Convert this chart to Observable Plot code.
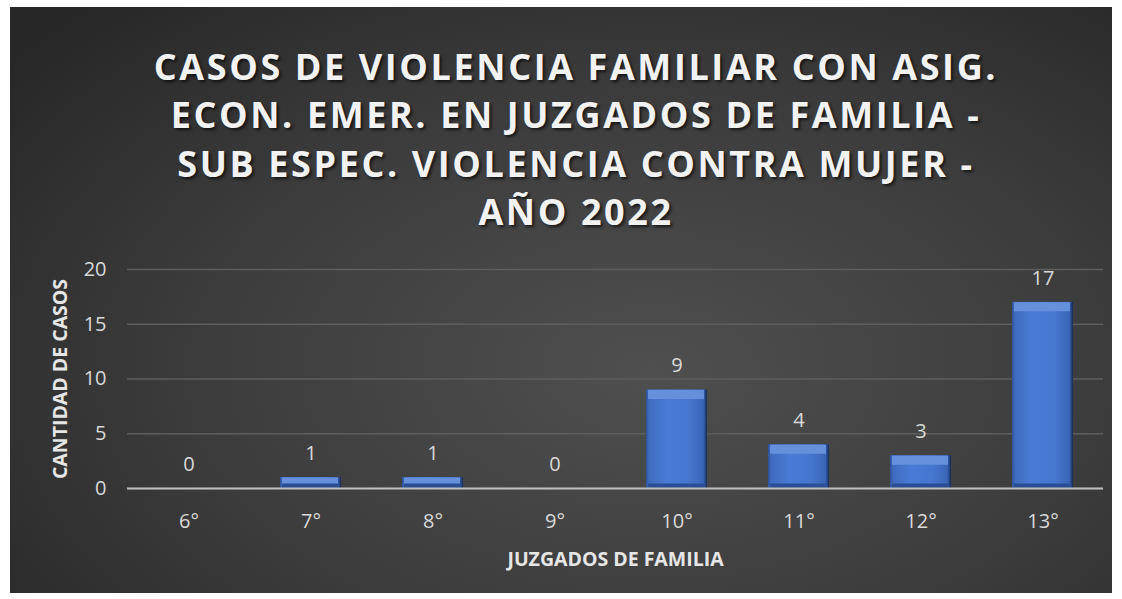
<!DOCTYPE html>
<html><head><meta charset="utf-8">
<script src="https://cdn.jsdelivr.net/npm/d3@7"></script>
<script src="https://cdn.jsdelivr.net/npm/@observablehq/plot@0.6"></script>
<style>
html,body{margin:0;padding:0;background:#fff;}
#panel{position:absolute;left:10px;top:7px;width:1102px;height:586px;overflow:hidden;
 background:radial-gradient(ellipse 75% 85% at 58% 62%, #4f4f4f 0%, #3c3c3c 55%, #272727 100%);}
#title{position:absolute;left:0;top:36px;width:1132px;text-align:center;font-family:"Open Sans",sans-serif;
 font-weight:700;font-size:36px;line-height:48.3px;letter-spacing:2.6px;color:#f2f2f2;
 text-shadow:2px 2px 3px rgba(0,0,0,0.65);}
#chart{position:absolute;left:0;top:236px;width:1102px;}
</style></head>
<body>
<div id="panel">
<div id="title">CASOS DE VIOLENCIA FAMILIAR CON ASIG.<br>ECON. EMER. EN JUZGADOS DE FAMILIA -<br>SUB ESPEC. VIOLENCIA CONTRA MUJER -<br>AÑO 2022</div>
<div id="chart"></div>
</div>
<script>
const categories = ["6°","7°","8°","9°","10°","11°","12°","13°"];
const values = [0,1,1,0,9,4,3,17];
const yTicks = [0,5,10,15,20];
const xLabel = "JUZGADOS DE FAMILIA";
const yLabel = "CANTIDAD DE CASOS";

const data = categories.map((c,i)=>({cat:c, value:values[i]}));
const nonZero = d => d.value > 0;

const chart = Plot.plot({
  width: 1102, height: 345,
  marginLeft: 117, marginRight: 9, marginTop: 26, marginBottom: 100,
  style: {background: "transparent", color: "#d9d9d9", fontFamily: "'Open Sans', sans-serif", fontSize: "20px", overflow: "visible"},
  x: {domain: categories, paddingInner: 0.5, paddingOuter: 0.25, label: null},
  y: {domain: [0,20], label: null},
  marks: [
    Plot.gridY(yTicks, {stroke: "#5e5e5e", strokeOpacity: 1, strokeWidth: 1.3}),
    Plot.barY(data, {x: "cat", y: "value", fill: "url(#barGrad)", filter: nonZero}),
    Plot.tickY(data, {x: "cat", y: "value", filter: nonZero, stroke: "#6590dc", strokeWidth: 9, dy: 4.5, insetLeft: 2, insetRight: 3}),
    Plot.tickY(data, {x: "cat", y: 0, filter: nonZero, stroke: "#2a4e93", strokeWidth: 5, dy: -2.5, insetLeft: 2, insetRight: 3}),
    Plot.ruleY([0], {stroke: "#bfbfbf", strokeWidth: 2}),
    Plot.axisY(yTicks, {tickSize: 0, tickPadding: 21, fontSize: 20, fill: "#d9d9d9", label: null}),
    Plot.axisX({tickSize: 0, tickPadding: 25, fontSize: 20, fill: "#d9d9d9", label: null}),
    Plot.text(data, {x: "cat", y: "value", text: d => String(d.value), dy: -24, fill: "#d9d9d9", fontSize: 20}),
    Plot.text([yLabel], {frameAnchor: "left", textAnchor: "middle", rotate: -90, dx: -67, fill: "#e6e6e6", fontSize: 19.5, fontWeight: "bold"}),
    Plot.text([xLabel], {frameAnchor: "bottom", textAnchor: "middle", dy: 77, fill: "#e6e6e6", fontSize: 19.5, fontWeight: "bold"})
  ]
});

const svg = d3.select(chart.tagName.toLowerCase()==="svg" ? chart : chart.querySelector("svg"));
const defs = svg.insert("defs", ":first-child");
const g = defs.append("linearGradient").attr("id","barGrad").attr("x1",0).attr("x2",1).attr("y1",0).attr("y2",0);
[[0,"#2c5299"],[0.05,"#3f6cbf"],[0.35,"#4b7bd6"],[0.7,"#4776cf"],[0.94,"#3a66b8"],[1,"#142a55"]]
  .forEach(([o,c])=>g.append("stop").attr("offset",o).attr("stop-color",c));
document.getElementById("chart").appendChild(chart);
</script>
</body></html>
